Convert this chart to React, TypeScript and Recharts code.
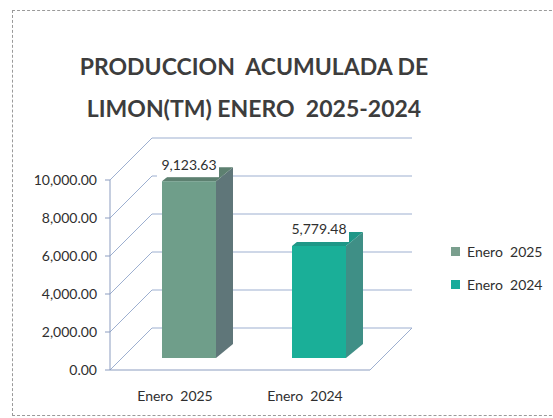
import React from "react";
import {
  BarChart,
  Bar,
  XAxis,
  YAxis,
  CartesianGrid,
  LabelList,
} from "recharts";

const categories = ["Enero  2025", "Enero  2024"];
const values = [9123.63, 5779.48];
const yTicks = [0, 2000, 4000, 6000, 8000, 10000];
const titleLines = ["PRODUCCION  ACUMULADA DE", "LIMON(TM) ENERO  2025-2024"];

const frontColors = ["#6f9e8a", "#1aaf98"];
const sideColors = ["#5f7679", "#3f8f86"];
const topColors = ["#5d8070", "#1f9787"];
const legendColors = ["#7a9f8e", "#17ab9b"];

const data = categories.map((name, i) => ({ name, value: values[i] }));

// 3D look: back wall sits DEPTH px up/right of the front plane
const DEPTH = 42;
const BAR_DX = 14; // bars stand a bit behind the front plane
const BAR_DY = -12;
const SIDE_DX = 17;
const SIDE_DY = -14;
const GRID = "#9dafd0";
const FONT = "Lato, 'Open Sans', sans-serif";

const fmt = (v: number) =>
  v.toLocaleString("en-US", { minimumFractionDigits: 2, maximumFractionDigits: 2 });

function WallLine(props: any) {
  const { x1, y1, x2 } = props;
  const bx = x1 + DEPTH;
  const by = y1 - DEPTH;
  let d = `M${x1},${y1} L${bx},${by} L${x2 + DEPTH},${by}`;
  // floor right edge on the 0 line
  if (Math.abs(y1 - 370) < 2) d += ` M${x2},${y1} L${x2 + DEPTH},${by}`;
  return <path key={props.key} d={d} stroke={GRID} strokeWidth={1} fill="none" />;
}

function Bar3D(props: any) {
  const { x, y, width, height, index } = props;
  const h = height * 1.02;
  const fx = x + BAR_DX;
  const base = y + height + BAR_DY;
  const fy = base - h;
  return (
    <g>
      <polygon
        points={`${fx + width},${fy} ${fx + width + SIDE_DX},${fy + SIDE_DY} ${fx + width + SIDE_DX},${base + SIDE_DY} ${fx + width},${base}`}
        fill={sideColors[index]}
      />
      <polygon
        points={`${fx},${fy} ${fx + SIDE_DX},${fy + SIDE_DY} ${fx + width + SIDE_DX},${fy + SIDE_DY} ${fx + width},${fy}`}
        fill={topColors[index]}
      />
      <rect x={fx} y={fy} width={width} height={h} fill={frontColors[index]} />
    </g>
  );
}

function ValueLabel(props: any) {
  const { x, y, width, height, value } = props;
  const cx = x + BAR_DX + width / 2;
  const top = y + height + BAR_DY - height * 1.02;
  const cy = top - 17;
  return (
    <g>
      <rect x={cx - 32} y={cy - 11} width={62} height={top - 4 - (cy - 11)} fill="#ffffff" />
      <text
        x={cx}
        y={cy}
        textAnchor="middle"
        dominantBaseline="central"
        fontFamily={FONT}
        fontSize={14}
        fill="#2f2f2f"
      >
        {fmt(value)}
      </text>
    </g>
  );
}

function CategoryTick(props: any) {
  const { x, y, payload } = props;
  return (
    <text
      x={x}
      y={y}
      dy="0.71em"
      textAnchor="middle"
      fontFamily={FONT}
      fontSize={14}
      fill="#2f2f2f"
      xmlSpace="preserve"
      style={{ whiteSpace: "pre" }}
    >
      {payload.value}
    </text>
  );
}

export default function App() {
  return (
    <div
      style={{
        position: "absolute",
        left: 0,
        top: 0,
        width: 553,
        height: 418,
        background: "#ffffff",
        fontFamily: FONT,
        overflow: "hidden",
      }}
    >
      <div
        style={{
          position: "absolute",
          left: 12,
          top: 10,
          width: 560,
          height: 406,
          border: "1px dashed #9a9a9a",
          boxSizing: "border-box",
        }}
      />
      {titleLines.map((t, i) => (
        <div
          key={t}
          style={{
            position: "absolute",
            left: 0,
            width: 508,
            top: i === 0 ? 52 : 94,
            textAlign: "center",
            fontWeight: 700,
            fontSize: 23,
            lineHeight: "28px",
            color: "#3d3d3d",
            whiteSpace: "pre",
          }}
        >
          {t}
        </div>
      ))}

      <div style={{ position: "absolute", left: 0, top: 0 }}>
        <BarChart
          width={553}
          height={418}
          data={data}
          margin={{ top: 180, right: 183, bottom: 18, left: 12 }}
          barSize={54}
        >
          <CartesianGrid vertical={false} horizontal={WallLine as any} />
          <XAxis
            dataKey="name"
            axisLine={{ stroke: "#8c9dc0" }}
            tickLine={false}
            tickSize={0}
            tickMargin={21}
            height={30}
            tick={CategoryTick}
          />
          <YAxis
            width={98}
            domain={[0, 10000]}
            ticks={yTicks}
            tickFormatter={fmt}
            axisLine={{ stroke: "#8c9dc0" }}
            tickLine={{ stroke: "#8c9dc0" }}
            tickSize={5}
            tickMargin={8}
            tick={{ fontFamily: FONT, fontSize: 14, fill: "#2f2f2f" }}
          />
          <Bar dataKey="value" shape={Bar3D} isAnimationActive={false}>
            <LabelList dataKey="value" content={ValueLabel} />
          </Bar>
        </BarChart>
      </div>

      <div style={{ position: "absolute", left: 451, top: 240 }}>
        {categories.map((c, i) => (
          <div
            key={c}
            style={{
              display: "flex",
              alignItems: "center",
              height: 22,
              marginBottom: 11,
              fontSize: 14,
              color: "#2f2f2f",
              whiteSpace: "pre",
            }}
          >
            <span
              style={{
                display: "inline-block",
                width: 9,
                height: 9,
                background: legendColors[i],
                marginRight: 7,
              }}
            />
            {c}
          </div>
        ))}
      </div>
    </div>
  );
}
